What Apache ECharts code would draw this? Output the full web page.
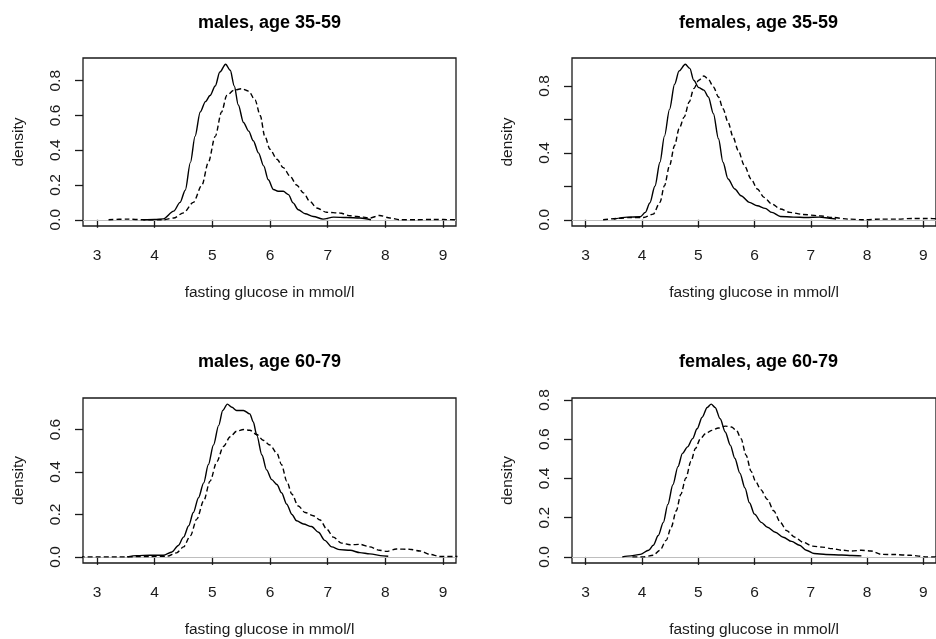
<!DOCTYPE html>
<html>
<head>
<meta charset="utf-8">
<title>fasting glucose density</title>
<script src="https://cdn.jsdelivr.net/npm/echarts@6/dist/echarts.min.js"></script>
<style>
  html, body { margin: 0; padding: 0; background: #fff; }
  #chart { width: 936px; height: 639px; }
</style>
</head>
<body>
<div id="chart"></div>
<script>
// panel titles
var titles = ['males, age 35-59', 'females, age 35-59', 'males, age 60-79', 'females, age 60-79'];
var xTicks = [3, 4, 5, 6, 7, 8, 9];
var xName = 'fasting glucose in mmol/l';
var yName = 'density';

// males 35-59
var m1SolidX = [3.8, 4.0, 4.15, 4.33, 4.44, 4.53, 4.62, 4.70, 4.79, 4.88, 4.96, 5.05, 5.13, 5.23, 5.31, 5.38, 5.45, 5.54, 5.63, 5.71, 5.80, 5.89, 5.97, 6.06, 6.14, 6.23, 6.32, 6.40, 6.49, 6.61, 6.75, 6.92, 7.10, 7.33, 7.56, 7.75];
var m1SolidY = [0, 0.002, 0.005, 0.05, 0.10, 0.17, 0.33, 0.48, 0.62, 0.68, 0.715, 0.77, 0.85, 0.895, 0.86, 0.77, 0.66, 0.56, 0.51, 0.455, 0.385, 0.31, 0.23, 0.174, 0.164, 0.164, 0.145, 0.097, 0.058, 0.035, 0.019, 0.004, 0.015, 0.013, 0.01, 0];
var m1DashX = [3.2, 3.52, 3.81, 4.15, 4.33, 4.5, 4.67, 4.82, 4.93, 5.05, 5.16, 5.25, 5.37, 5.51, 5.63, 5.74, 5.83, 5.91, 6.0, 6.12, 6.23, 6.35, 6.46, 6.58, 6.69, 6.81, 6.98, 7.21, 7.39, 7.62, 7.73, 7.9, 8.08, 8.25, 8.54, 8.83, 9.25];
var m1DashY = [0, 0.004, 0, 0, 0.01, 0.04, 0.1, 0.2, 0.33, 0.48, 0.62, 0.715, 0.745, 0.754, 0.74, 0.69, 0.60, 0.48, 0.406, 0.348, 0.30, 0.25, 0.20, 0.155, 0.106, 0.068, 0.043, 0.039, 0.023, 0.015, 0.01, 0.025, 0.01, 0, 0, 0.002, 0];

// females 35-59
var f1SolidX = [3.5, 3.74, 3.97, 4.06, 4.14, 4.23, 4.32, 4.40, 4.49, 4.58, 4.66, 4.77, 4.85, 4.92, 5.01, 5.10, 5.18, 5.27, 5.36, 5.44, 5.53, 5.65, 5.76, 5.91, 6.05, 6.19, 6.31, 6.46, 6.69, 6.92, 7.15, 7.38, 7.45];
var f1SolidY = [0.004, 0.016, 0.018, 0.044, 0.10, 0.20, 0.344, 0.50, 0.66, 0.81, 0.89, 0.93, 0.905, 0.834, 0.79, 0.775, 0.734, 0.634, 0.484, 0.344, 0.244, 0.184, 0.144, 0.104, 0.084, 0.068, 0.044, 0.02, 0.016, 0.014, 0.016, 0.008, 0.005];
var f1DashX = [3.31, 3.57, 3.8, 4.03, 4.2, 4.32, 4.40, 4.49, 4.58, 4.66, 4.75, 4.84, 4.92, 5.01, 5.10, 5.18, 5.27, 5.36, 5.44, 5.53, 5.62, 5.71, 5.82, 5.94, 6.05, 6.17, 6.31, 6.46, 6.63, 6.86, 7.15, 7.38, 7.67, 7.95, 8.24, 8.53, 8.82, 9.07, 9.3];
var f1DashY = [0, 0.008, 0.014, 0.014, 0.034, 0.104, 0.204, 0.324, 0.444, 0.544, 0.614, 0.704, 0.784, 0.834, 0.86, 0.84, 0.794, 0.734, 0.664, 0.584, 0.494, 0.414, 0.324, 0.244, 0.184, 0.134, 0.094, 0.064, 0.044, 0.032, 0.024, 0.014, 0.004, 0, 0.004, 0.004, 0.008, 0.008, 0.005];

// males 60-79
var m2SolidX = [3.52, 3.69, 3.92, 4.15, 4.30, 4.41, 4.50, 4.59, 4.67, 4.76, 4.85, 4.93, 5.02, 5.11, 5.18, 5.26, 5.34, 5.42, 5.54, 5.65, 5.71, 5.77, 5.86, 5.94, 6.03, 6.12, 6.20, 6.29, 6.38, 6.46, 6.58, 6.72, 6.84, 6.95, 7.07, 7.21, 7.39, 7.56, 7.73, 7.96, 8.05];
var m2SolidY = [0, 0.006, 0.008, 0.008, 0.023, 0.054, 0.093, 0.147, 0.209, 0.279, 0.349, 0.434, 0.527, 0.62, 0.69, 0.72, 0.705, 0.69, 0.69, 0.674, 0.636, 0.574, 0.48, 0.41, 0.364, 0.341, 0.302, 0.248, 0.2, 0.17, 0.155, 0.143, 0.116, 0.078, 0.047, 0.034, 0.031, 0.02, 0.014, 0.005, 0.003];
var m2DashX = [2.7, 3.35, 3.92, 4.21, 4.38, 4.50, 4.62, 4.73, 4.85, 4.96, 5.08, 5.19, 5.31, 5.42, 5.54, 5.65, 5.77, 5.88, 6.00, 6.12, 6.20, 6.29, 6.38, 6.49, 6.61, 6.75, 6.87, 6.98, 7.10, 7.24, 7.39, 7.56, 7.73, 7.90, 8.02, 8.19, 8.42, 8.60, 8.77, 8.94, 9.25];
var m2DashY = [0, 0, 0.002, 0.003, 0.019, 0.047, 0.10, 0.178, 0.264, 0.357, 0.45, 0.52, 0.566, 0.592, 0.60, 0.597, 0.577, 0.55, 0.527, 0.488, 0.434, 0.357, 0.295, 0.24, 0.209, 0.194, 0.174, 0.132, 0.093, 0.065, 0.057, 0.059, 0.047, 0.031, 0.026, 0.037, 0.036, 0.028, 0.012, 0.002, 0.002];

// females 60-79
var f2SolidX = [3.65, 3.80, 3.97, 4.12, 4.20, 4.29, 4.38, 4.46, 4.55, 4.64, 4.72, 4.81, 4.90, 4.98, 5.07, 5.16, 5.23, 5.30, 5.39, 5.48, 5.57, 5.65, 5.74, 5.83, 5.91, 6.00, 6.12, 6.23, 6.37, 6.51, 6.66, 6.80, 6.92, 7.06, 7.27, 7.55, 7.73, 7.90];
var f2SolidY = [0, 0.005, 0.013, 0.034, 0.059, 0.109, 0.176, 0.268, 0.368, 0.46, 0.528, 0.561, 0.603, 0.653, 0.712, 0.762, 0.779, 0.762, 0.704, 0.637, 0.57, 0.503, 0.427, 0.352, 0.276, 0.218, 0.176, 0.151, 0.126, 0.10, 0.079, 0.059, 0.034, 0.017, 0.012, 0.01, 0.007, 0.005];
var f2DashX = [3.83, 4.03, 4.20, 4.32, 4.43, 4.52, 4.61, 4.69, 4.78, 4.87, 4.95, 5.04, 5.13, 5.24, 5.36, 5.48, 5.59, 5.68, 5.76, 5.85, 5.94, 6.02, 6.11, 6.23, 6.34, 6.46, 6.57, 6.72, 6.86, 7.03, 7.20, 7.38, 7.55, 7.73, 7.90, 8.07, 8.25, 8.48, 8.77, 9.07, 9.3];
var f2DashY = [0, 0, 0.008, 0.034, 0.084, 0.151, 0.235, 0.318, 0.402, 0.486, 0.553, 0.603, 0.628, 0.645, 0.657, 0.667, 0.662, 0.645, 0.603, 0.519, 0.436, 0.385, 0.343, 0.293, 0.235, 0.176, 0.134, 0.10, 0.075, 0.055, 0.05, 0.042, 0.034, 0.03, 0.034, 0.03, 0.013, 0.012, 0.008, 0, 0];

// y ticks / labels per panel
var yTicks = [[0, 0.2, 0.4, 0.6, 0.8], [0, 0.2, 0.4, 0.6, 0.8], [0, 0.2, 0.4, 0.6], [0, 0.2, 0.4, 0.6, 0.8]];
var yLabels = [[0, 0.2, 0.4, 0.6, 0.8], [0, 0.4, 0.8], [0, 0.2, 0.4, 0.6], [0, 0.2, 0.4, 0.6, 0.8]];
var yPeak = [0.895, 0.93, 0.72, 0.779];

var solids = [[m1SolidX, m1SolidY], [f1SolidX, f1SolidY], [m2SolidX, m2SolidY], [f2SolidX, f2SolidY]];
var dashes = [[m1DashX, m1DashY], [f1DashX, f1DashY], [m2DashX, m2DashY], [f2DashX, f2DashY]];

// layout (px) of each plot box
var boxes = [
  {left: 83, top: 58, width: 373, height: 168},
  {left: 572, top: 58, width: 373, height: 168},
  {left: 83, top: 398, width: 373, height: 166},
  {left: 572, top: 398, width: 373, height: 166}
];
var titleY = [23, 23, 362, 362];

var font = '"Liberation Sans", Arial, sans-serif';
var ink = '#1a1a1a';

function pairs(xs, ys) {
  var out = [];
  for (var i = 0; i < xs.length; i++) out.push([xs[i], ys[i]]);
  return out;
}

var grid = [], xAxis = [], yAxis = [], series = [], graphic = [];
for (var i = 0; i < 4; i++) {
  var b = boxes[i];
  grid.push({left: b.left, top: b.top, width: b.width, height: b.height, show: true,
    borderColor: ink, borderWidth: 1.3, backgroundColor: 'transparent'});
  xAxis.push({
    type: 'value', gridIndex: i, min: 2.757, max: 9.225,
    axisLine: {show: false}, splitLine: {show: false},
    axisTick: {show: true, length: 8, customValues: xTicks, lineStyle: {color: ink, width: 1.3}},
    axisLabel: {customValues: xTicks, margin: 22, fontSize: 15.5, color: ink, fontFamily: font},
    name: xName, nameLocation: 'middle', nameGap: 59,
    nameTextStyle: {fontSize: 15.5, color: ink, fontFamily: font}
  });
  yAxis.push({
    type: 'value', gridIndex: i, min: -yPeak[i] * 0.04, max: yPeak[i] * 1.04,
    axisLine: {show: false}, splitLine: {show: false},
    axisTick: {show: true, length: 8, customValues: yTicks[i], lineStyle: {color: ink, width: 1.3}},
    axisLabel: {customValues: yLabels[i], rotate: 90, margin: 19, fontSize: 15.5, color: ink, fontFamily: font,
      formatter: function (v) { return v.toFixed(1); }},
    name: yName, nameLocation: 'middle', nameGap: 56,
    nameTextStyle: {fontSize: 15.5, color: ink, fontFamily: font}
  });
  series.push({
    type: 'line', xAxisIndex: i, yAxisIndex: i, name: 'solid',
    data: pairs(solids[i][0], solids[i][1]),
    showSymbol: false, smooth: 0.3, smoothMonotone: 'x', z: 3,
    lineStyle: {color: '#000', width: 1.4, type: 'solid'},
    markLine: {silent: true, symbol: ['none', 'none'], label: {show: false}, z: 1,
      lineStyle: {color: '#bebebe', width: 1, type: 'solid'}, data: [{yAxis: 0}]}
  });
  series.push({
    type: 'line', xAxisIndex: i, yAxisIndex: i, name: 'dashed',
    data: pairs(dashes[i][0], dashes[i][1]),
    showSymbol: false, smooth: 0.3, smoothMonotone: 'x', z: 2,
    lineStyle: {color: '#000', width: 1.4, type: [5, 3]}
  });
  graphic.push({
    type: 'text', x: b.left + b.width / 2, y: titleY[i],
    style: {text: titles[i], align: 'center', verticalAlign: 'middle',
      fontSize: 18, fontWeight: 'bold', fontFamily: font, fill: '#000'}
  });
}

var myChart = echarts.init(document.getElementById('chart'));
myChart.setOption({
  backgroundColor: '#fff',
  animation: false,
  grid: grid,
  xAxis: xAxis,
  yAxis: yAxis,
  series: series,
  graphic: graphic
});
</script>
</body>
</html>
